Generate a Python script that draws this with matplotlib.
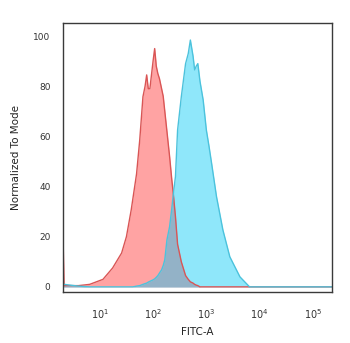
import numpy as np
import matplotlib
matplotlib.use("Agg")
import matplotlib.pyplot as plt

# histogram bin positions (log10 of FITC-A) shared by both samples
bin_log = [0.31, 0.33, 0.60, 0.81, 1.06, 1.24, 1.41, 1.50, 1.59, 1.62,
           1.69, 1.75, 1.81, 1.85, 1.88, 1.91, 1.94, 2.00, 2.03, 2.06,
           2.09, 2.12, 2.16, 2.19, 2.22, 2.26, 2.31, 2.35, 2.38, 2.42,
           2.46, 2.53, 2.61, 2.66, 2.70, 2.75, 2.78, 2.81, 2.84, 2.88,
           2.94, 3.00, 3.05, 3.10, 3.19, 3.31, 3.44, 3.63, 3.81, 4.20, 5.36]

# isotype control (red)
isotype = [21, 0.5, 0.5, 1, 3, 7.5, 13.5, 20, 30.7, 35,
           45, 58.6, 75.8, 80, 84.5, 79, 79, 90, 95, 88,
           85, 83, 79, 76, 70, 62, 52, 43, 37, 28,
           17, 10, 4.5, 3, 2, 1.5, 1, 0.7, 0.5, 0,
           0, 0, 0, 0, 0, 0, 0, 0, 0, 0, 0]

# stained sample (cyan)
stained = [1.2, 1, 0.3, 0, 0, 0, 0, 0, 0, 0,
           0.3, 0.5, 1, 1.3, 1.5, 1.9, 2.2, 2.8, 3.2, 3.8,
           4.5, 5.5, 6.8, 8.5, 10.8, 18.7, 24, 31, 37, 44,
           62.5, 75.8, 89, 93, 98.4, 92, 86.5, 88, 89, 82,
           74.5, 62.5, 56, 49, 36, 22.7, 12, 4, 0, 0, 0]

x_ticks = [1, 2, 3, 4, 5]
y_ticks = [0, 20, 40, 60, 80, 100]

x = np.power(10.0, bin_log)
iso = np.array(isotype)
stn = np.array(stained)
overlap = np.minimum(iso, stn)

fig = plt.figure(figsize=(3.5, 3.43), dpi=100)
ax = fig.add_axes([0.18, 0.149, 0.769, 0.784])

ax.fill_between(x, 0, iso, color="#ffa3a3", lw=0)
ax.fill_between(x, 0, stn, color="#8fe7fa", lw=0)
ax.plot(x, iso, color="#d95555", lw=1.0)
ax.plot(x, stn, color="#4cc2dc", lw=1.0)
ax.fill_between(x, 0, overlap, color="#94a9bf", lw=0, alpha=0.85)

ax.set_xscale("log")
ax.set_xlim(10 ** 0.31, 10 ** 5.36)
ax.set_ylim(-2, 105.2)

ax.set_xticks([10.0 ** p for p in x_ticks])
ax.set_xticklabels([r"$\mathregular{10^{%d}}$" % p for p in x_ticks])
ax.xaxis.set_minor_locator(matplotlib.ticker.NullLocator())
ax.set_yticks(y_ticks)
ax.set_yticklabels([str(v) for v in y_ticks])

ax.tick_params(axis="x", length=0, pad=11, labelsize=7, labelcolor="#333333")
ax.tick_params(axis="y", length=0, pad=9, labelsize=6.5, labelcolor="#333333")

ax.set_xlabel("FITC-A", fontsize=7.5, color="#222222", labelpad=4)
ax.set_ylabel("Normalized To Mode", fontsize=7.5, color="#222222", labelpad=9)

for s in ax.spines.values():
    s.set_color("#3a3a3a")
    s.set_linewidth(1.0)

fig.savefig("out.png", dpi=100)
